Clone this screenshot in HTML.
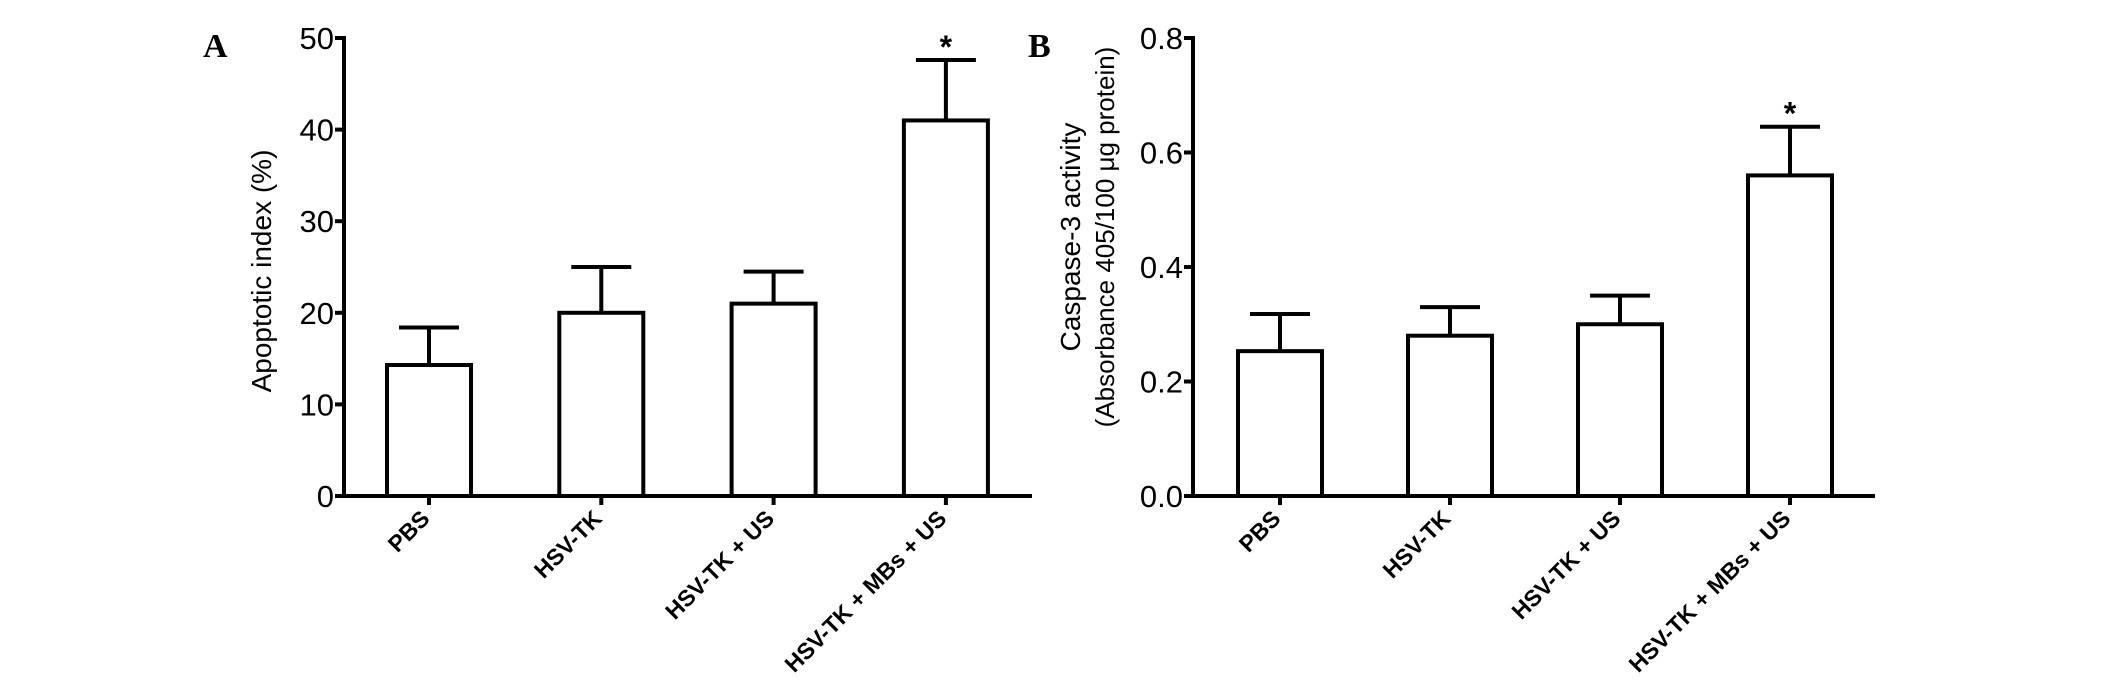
<!DOCTYPE html>
<html><head><meta charset="utf-8"><style>
html,body{margin:0;padding:0;background:#fff;}
svg{display:block;}
</style></head><body>
<svg id="chart" width="2126" height="685" viewBox="0 0 2126 685" xmlns="http://www.w3.org/2000/svg"></svg>
<script>
const categories = ["PBS", "HSV-TK", "HSV-TK + US", "HSV-TK + MBs + US"];
const apoptosisMeans = [14.3, 20.0, 21.0, 41.0];
const apoptosisErr = [4.1, 5.0, 3.5, 6.6];
const apoptosisTicks = [0, 10, 20, 30, 40, 50];
const apoptosisTickLabels = ["0", "10", "20", "30", "40", "50"];
const caspaseMeans = [0.253, 0.28, 0.30, 0.56];
const caspaseErr = [0.065, 0.05, 0.05, 0.085];
const caspaseTicks = [0, 0.2, 0.4, 0.6, 0.8];
const caspaseTickLabels = ["0.0", "0.2", "0.4", "0.6", "0.8"];
const significant = [false, false, false, true];

const NS = "http://www.w3.org/2000/svg";
const svg = document.getElementById("chart");
function mk(tag, attrs, parent) {
  const e = document.createElementNS(NS, tag);
  for (const k in attrs) e.setAttribute(k, attrs[k]);
  (parent || svg).appendChild(e);
  return e;
}

function panel(opts) {
  const g = mk("g", {});
  
  
  const y0 = 496, yTop = 38;
  const yScale = v => y0 - (v - opts.min) / (opts.max - opts.min) * (y0 - yTop);
  const xScale = i => opts.firstCenter + i * opts.step;
  const sw = 4;
  opts.means.forEach((m, i) => {
    const cx = xScale(i), bw = 84;
    const yt = yScale(m), ye = yScale(m + opts.err[i]);
    const eb = mk("line", {x1: cx, x2: cx, y1: yt, y2: ye, stroke: "#000", "stroke-width": sw}, g);
    
    
    const cap = mk("line", {x1: cx - 30, x2: cx + 30, y1: ye, y2: ye, stroke: "#000", "stroke-width": sw}, g);
    
    
    const r = mk("rect", {x: cx - bw / 2, y: yt, width: bw, height: y0 - yt, fill: "#fff", stroke: "#000", "stroke-width": sw}, g);
    
    
    if (significant[i]) {
      const s = mk("text", {x: cx, y: ye - 2, "text-anchor": "middle", "font-family": "Liberation Sans, sans-serif", "font-size": 32, "font-weight": "bold"}, g);
      s.textContent = "*";
      
      
    }
    const t = mk("line", {x1: cx, x2: cx, y1: y0, y2: y0 + 9, stroke: "#000", "stroke-width": sw}, g);
    
    
    const lx = cx + 2, ly = y0 + 24;
    const lab = mk("text", {x: lx, y: ly, "text-anchor": "end", "font-family": "Liberation Sans, sans-serif", "font-size": 23, "font-weight": "bold", transform: "rotate(-45 " + lx + " " + ly + ")"}, g);
    lab.textContent = categories[i];
    
    
  });
  const ya = mk("line", {x1: opts.axisX, x2: opts.axisX, y1: yTop - 2, y2: y0 + 2, stroke: "#000", "stroke-width": sw}, g);
  
  
  const xa = mk("line", {x1: opts.axisX - 9, x2: opts.axisEnd, y1: y0, y2: y0, stroke: "#000", "stroke-width": sw}, g);
  
  
  opts.ticks.forEach((v, i) => {
    const y = yScale(v);
    const tk = mk("line", {x1: opts.axisX - 9, x2: opts.axisX, y1: y, y2: y, stroke: "#000", "stroke-width": sw}, g);
    
    
    const tl = mk("text", {x: opts.axisX - 10, y: y + 11, "text-anchor": "end", "font-family": "Liberation Sans, sans-serif", "font-size": 31}, g);
    tl.textContent = opts.tickLabels[i];
    
    
  });
  return g;
}

panel({name: "panel-a", min: 0, max: 50, means: apoptosisMeans, err: apoptosisErr, ticks: apoptosisTicks, tickLabels: apoptosisTickLabels, axisX: 344, axisEnd: 1032, firstCenter: 429, step: 172.3});
panel({name: "panel-b", min: 0, max: 0.8, means: caspaseMeans, err: caspaseErr, ticks: caspaseTicks, tickLabels: caspaseTickLabels, axisX: 1193, axisEnd: 1875, firstCenter: 1280, step: 170});

function txt(s, attrs, name) {
  const e = mk("text", Object.assign({"font-family": "Liberation Sans, sans-serif"}, attrs));
  e.textContent = s;
  
  
  return e;
}
txt("A", {x: 203, y: 57, "font-family": "Liberation Serif, serif", "font-size": 34, "font-weight": "bold"}, "panel-a-label");
txt("B", {x: 1028, y: 57, "font-family": "Liberation Serif, serif", "font-size": 34, "font-weight": "bold"}, "panel-b-label");
txt("Apoptotic index (%)", {x: 0, y: 0, "font-size": 28, "text-anchor": "middle", transform: "translate(271 271) rotate(-90)"}, "y-axis-title-a");
txt("Caspase-3 activity", {x: 0, y: 0, "font-size": 28, "text-anchor": "middle", transform: "translate(1080 237) rotate(-90)"}, "y-axis-title-b");
txt("(Absorbance 405/100 \u03bcg protein)", {x: 0, y: 0, "font-size": 26, "text-anchor": "middle", transform: "translate(1114 237) rotate(-90)"}, "y-axis-subtitle-b");
</script>
</body></html>
